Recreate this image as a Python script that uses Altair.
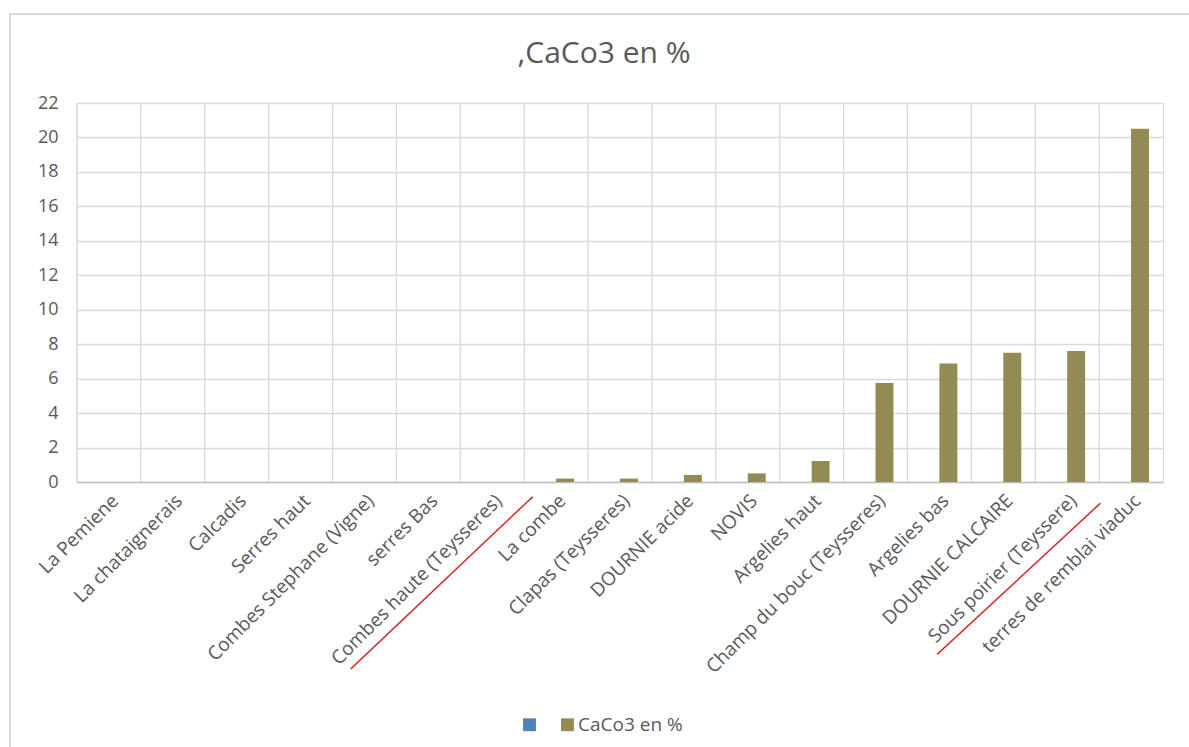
import altair as alt
import pandas as pd

# ---- data ----
categories = [
    "La Pemiene", "La chataignerais", "Calcadis", "Serres haut",
    "Combes Stephane (Vigne)", "serres Bas", "Combes haute (Teysseres)",
    "La combe", "Clapas (Teysseres)", "DOURNIE acide", "NOVIS",
    "Argelies haut", "Champ du bouc (Teysseres)", "Argelies bas",
    "DOURNIE CALCAIRE", "Sous poirier (Teyssere)", "terres de remblai viaduc",
]
caco3_pct = [0, 0, 0, 0, 0, 0, 0, 0.2, 0.2, 0.41, 0.5, 1.22, 5.75, 6.88, 7.5, 7.6, 20.5]
series_names = ["", "CaCo3 en %"]
series_colors = ["#4F81BD", "#948A54"]
y_ticks = list(range(0, 23, 2))
chart_title = ",CaCo3 en %"

df = pd.DataFrame({
    "site": categories,
    "value": caco3_pct,
    "series": ["CaCo3 en %"] * len(categories),
})
one = pd.DataFrame({"k": [0]})

FONT = "Open Sans"
GREY = "#595959"
GRID = "#D9D9D9"

W, H = 1086, 379

x_enc = alt.X(
    "site:N", sort=categories,
    scale=alt.Scale(paddingInner=0, paddingOuter=0),
    axis=alt.Axis(
        title=None, labelAngle=-45, labelAlign="right", labelBaseline="top",
        labelFontSize=19, labelFont=FONT, labelColor=GREY, labelPadding=9,
        labelLimit=400, labelOverlap=False, ticks=False, grid=False,
        domainColor="#BFBFBF", domainWidth=1.5,
    ),
)

bars = alt.Chart(df).mark_bar().encode(
    x=x_enc,
    xOffset=alt.XOffset("series:N", scale=alt.Scale(domain=series_names, paddingOuter=0.78, paddingInner=0)),
    y=alt.Y(
        "value:Q",
        scale=alt.Scale(domain=[0, 22], nice=False),
        axis=alt.Axis(
            title=None, values=y_ticks, ticks=False, domain=False,
            grid=True, gridColor=GRID, gridWidth=1.3,
            labelFontSize=18, labelFont=FONT, labelColor=GREY, labelPadding=19,
        ),
    ),
    color=alt.Color(
        "series:N",
        scale=alt.Scale(domain=series_names, range=series_colors),
        legend=alt.Legend(
            title=None, orient="none", direction="horizontal",
            legendX=443, legendY=612,
            symbolType="square", symbolSize=165, symbolStrokeWidth=0,
            labelFontSize=19, labelFont=FONT, labelColor=GREY,
            labelOffset=1, columnPadding=18,
        ),
    ),
)

vgrid = alt.Chart(df).mark_rule(color=GRID, strokeWidth=1.3).encode(
    x=alt.X("site:N", sort=categories, bandPosition=0),
)

red1 = alt.Chart(one).mark_rule(color="#FF0000", strokeWidth=1.3).encode(
    x=alt.value(455.7), y=alt.value(393.7), x2=alt.value(273.7), y2=alt.value(566),
)
red2 = alt.Chart(one).mark_rule(color="#FF0000", strokeWidth=1.3).encode(
    x=alt.value(1023.3), y=alt.value(400.3), x2=alt.value(860.3), y2=alt.value(551.3),
)
frame = alt.Chart(one).mark_rect(fill=None, stroke=GRID, strokeWidth=2).encode(
    x=alt.value(-67), y=alt.value(-89), x2=alt.value(1140), y2=alt.value(660),
)
title = alt.Chart(one).mark_text(
    font=FONT, fontSize=30, color=GREY, align="center", baseline="alphabetic",
).encode(
    x=alt.value(527), y=alt.value(-40), text=alt.value(chart_title),
)

chart = alt.layer(vgrid, bars, red1, red2, frame, title).properties(
    width=W, height=H,
    padding={"left": 77, "top": 103, "right": 26, "bottom": 265},
    autosize=alt.AutoSizeParams(type="none"),
).configure_view(stroke=GRID, strokeWidth=1.3).configure(background="white")

chart.save("out.html", embed_options={"renderer": "svg", "actions": False})
